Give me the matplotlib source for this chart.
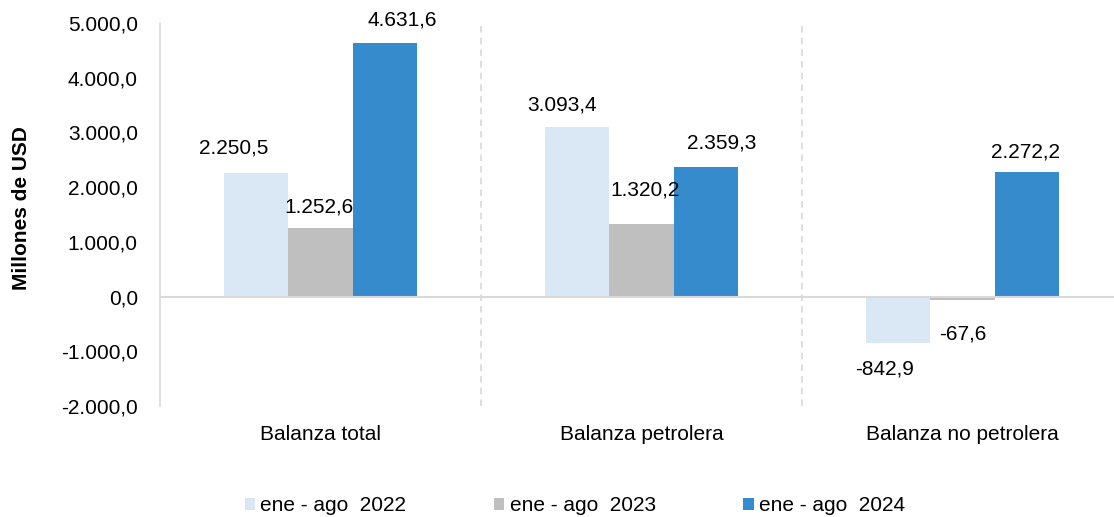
import numpy as np
import matplotlib
matplotlib.use("Agg")
import matplotlib.pyplot as plt
from matplotlib.ticker import FuncFormatter

plt.rcParams['font.family'] = ['Liberation Sans', 'DejaVu Sans']

categorias = ["Balanza total", "Balanza petrolera", "Balanza no petrolera"]
series = ["ene - ago  2022", "ene - ago  2023", "ene - ago  2024"]
v2022 = [2250.5, 3093.4, -842.9]
v2023 = [1252.6, 1320.2, -67.6]
v2024 = [4631.6, 2359.3, 2272.2]
colores = ["#DAE7F5", "#BFBFBF", "#358BCB"]

# desplazamiento de las etiquetas (px) respecto al extremo de cada barra
label_shift = [
    [(-23, 25), (-15, 22), (-14, -26)],
    [(-2, 21), (4, 34), (0, -34)],
    [(18, 23), (16, 24), (-1, 20)],
]


def fmt_es(v, decimals=1):
    s = f"{v:,.{decimals}f}"
    return s.replace(",", "X").replace(".", ",").replace("X", ".")


fig = plt.figure(figsize=(11.14, 5.17), dpi=100)
ax = fig.add_axes([160 / 1114, 1 - 406 / 517, 963 / 1114, 383 / 517])

x = np.arange(len(categorias))
w = 0.2
for k, vals in enumerate([v2022, v2023, v2024]):
    pos = x + (k - 1) * w
    ax.bar(pos, vals, width=w, color=colores[k], label=series[k], zorder=2)
    for i, v in enumerate(vals):
        dx, dy = label_shift[k][i]
        ax.annotate(fmt_es(v), xy=(pos[i], v), xytext=(dx, dy),
                    textcoords="offset pixels", ha="center", va="center",
                    fontsize=15, color="#000000")

ax.set_xlim(-0.5, 2.5)
ax.set_ylim(-2000, 5000)
ax.set_yticks(np.arange(-2000, 5001, 1000))
ax.yaxis.set_major_formatter(FuncFormatter(lambda v, p: fmt_es(v)))
ax.set_xticks(x)
ax.set_xticklabels(categorias)
ax.tick_params(axis="both", length=0, labelsize=15, colors="#000000")
ax.tick_params(axis="x", pad=14)
ax.tick_params(axis="y", pad=16)

for s in ["top", "right", "bottom"]:
    ax.spines[s].set_visible(False)
ax.spines["left"].set_color("#D9D9D9")
ax.spines["left"].set_linewidth(1.2)
ax.axhline(0, color="#D9D9D9", linewidth=1.5, zorder=3)
for sep in [0.5, 1.5]:
    ax.axvline(sep, color="#D9D9D9", linestyle=(0, (4, 3)), linewidth=1.2, zorder=1)

fig.text(22 / 1114, 1 - 208 / 517, "Millones de USD", rotation=90,
         ha="center", va="center", fontsize=15, fontweight="bold")

fig.legend(loc="center", bbox_to_anchor=(0.516, 0.022), ncol=3, frameon=False,
           fontsize=15, handlelength=0.5, handleheight=0.5, handletextpad=0.25,
           columnspacing=4.2)

fig.savefig("out.png", dpi=100)
